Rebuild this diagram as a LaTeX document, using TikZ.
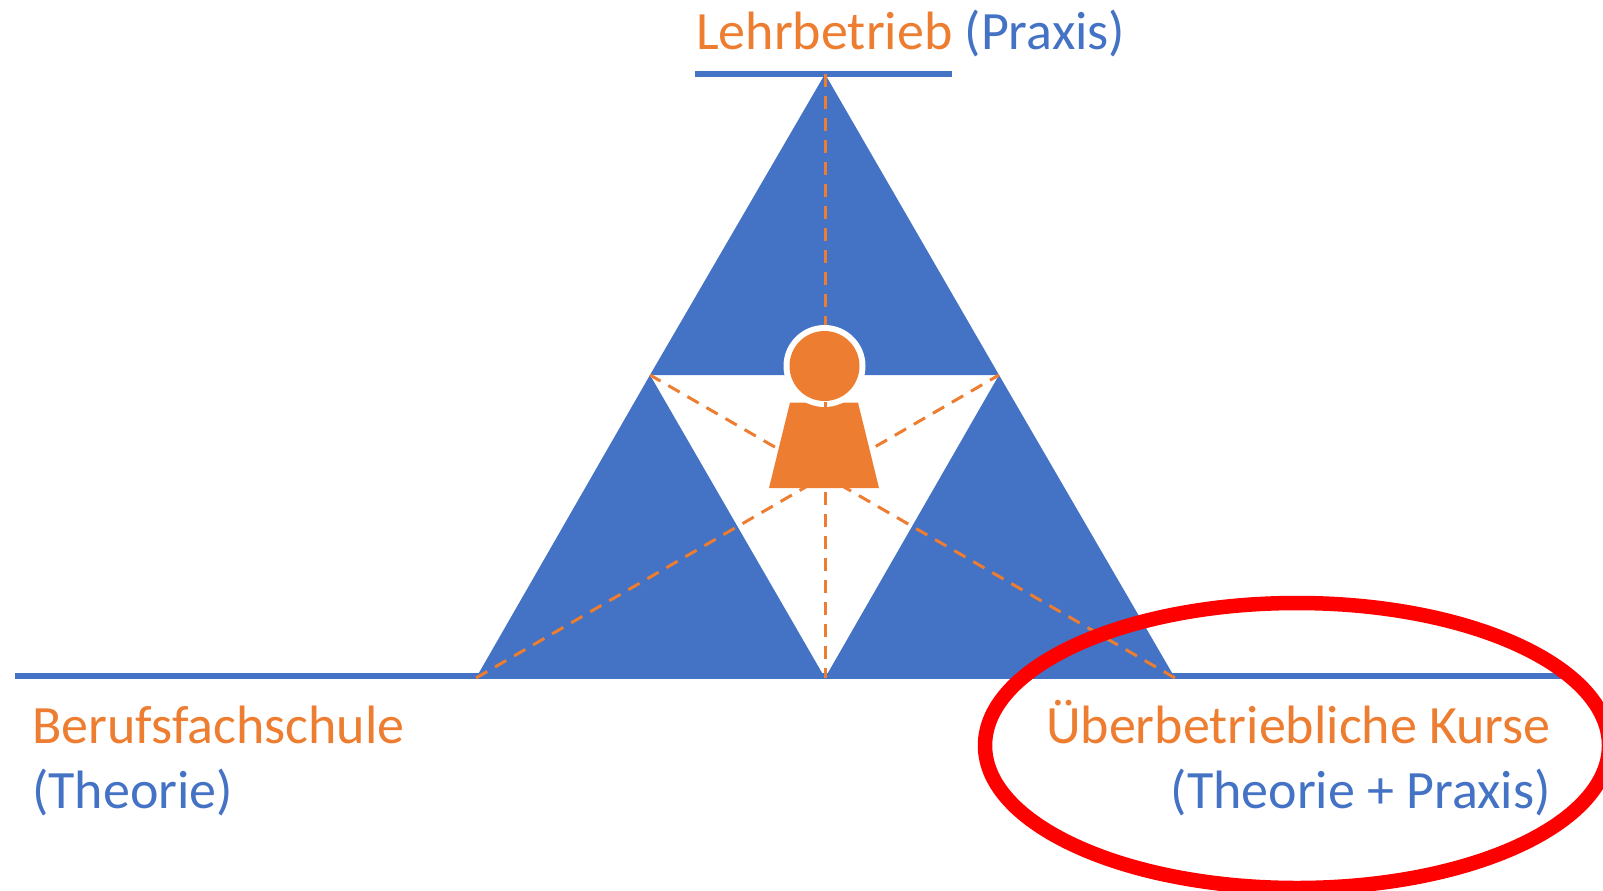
\documentclass[tikz,border=0pt]{standalone}
\usepackage{fontspec}
\setmainfont{Carlito}
\definecolor{oblue}{HTML}{4472C4}
\definecolor{oorange}{HTML}{ED7D31}
\tikzset{
  x=1pt,y=-1pt,
  tri/.style={fill=oblue,draw=none},
  baseline rule/.style={draw=oblue,line width=5.5pt},
  spoke/.style={draw=oorange,line width=3pt,dash pattern=on 13pt off 9pt},
  lab/.style={font=\fontsize{54}{64}\selectfont,inner sep=0pt},
}
\begin{document}
\begin{tikzpicture}
\useasboundingbox (0,0) rectangle (1603,891);
\coordinate (T) at (825,74);
\coordinate (L) at (476,678);
\coordinate (R) at (1175,678);
\coordinate (B) at (825,678);
\coordinate (ML) at (650,375);
\coordinate (MR) at (999,375);
\coordinate (C) at (824.5,366);
\coordinate (topA) at (695,74);
\coordinate (topB) at (952,74);
\coordinate (baseA) at (15,676);
\coordinate (baseB) at (1565,676);
\fill[tri] (T) -- (ML) -- (MR) -- cycle;
\fill[tri] (ML) -- (L) -- (B) -- cycle;
\fill[tri] (MR) -- (B) -- (R) -- cycle;
\draw[baseline rule] (topA) -- (topB);
\draw[baseline rule] (baseA) -- (baseB);
\draw[spoke] (T) -- (B);
\draw[spoke] (L) -- (MR);
\draw[spoke] (R) -- (ML);
\fill[oorange] (790,402.5) -- (858,402.5) -- (879,488) -- (769,488) -- cycle;
\fill[white] (C) circle[radius=41];
\fill[oorange] (C) circle[radius=35];
\draw[oorange,line width=3pt] (825,402) -- (825,407);
\node[lab,anchor=base west] (lehr) at (696,50) {\textcolor{oorange}{Lehrbetrieb} \textcolor{oblue}{(Praxis)}};
\node[lab,anchor=base west,text=oorange] (schule) at (32,743.5) {Berufsfachschule};
\node[lab,anchor=base west,text=oblue] (theorie) at (32,808) {(Theorie)};
\node[lab,anchor=base east,text=oorange] (kurse) at (1551,743.5) {Überbetriebliche Kurse};
\node[lab,anchor=base east,text=oblue] (tp) at (1551,808) {(Theorie + Praxis)};
\begin{scope}
\clip (0,0) rectangle (1603,891);
\draw[red,line width=14.5pt] (1297,745.5) ellipse[x radius=312,y radius=142.5];
\end{scope}
\end{tikzpicture}
\end{document}
